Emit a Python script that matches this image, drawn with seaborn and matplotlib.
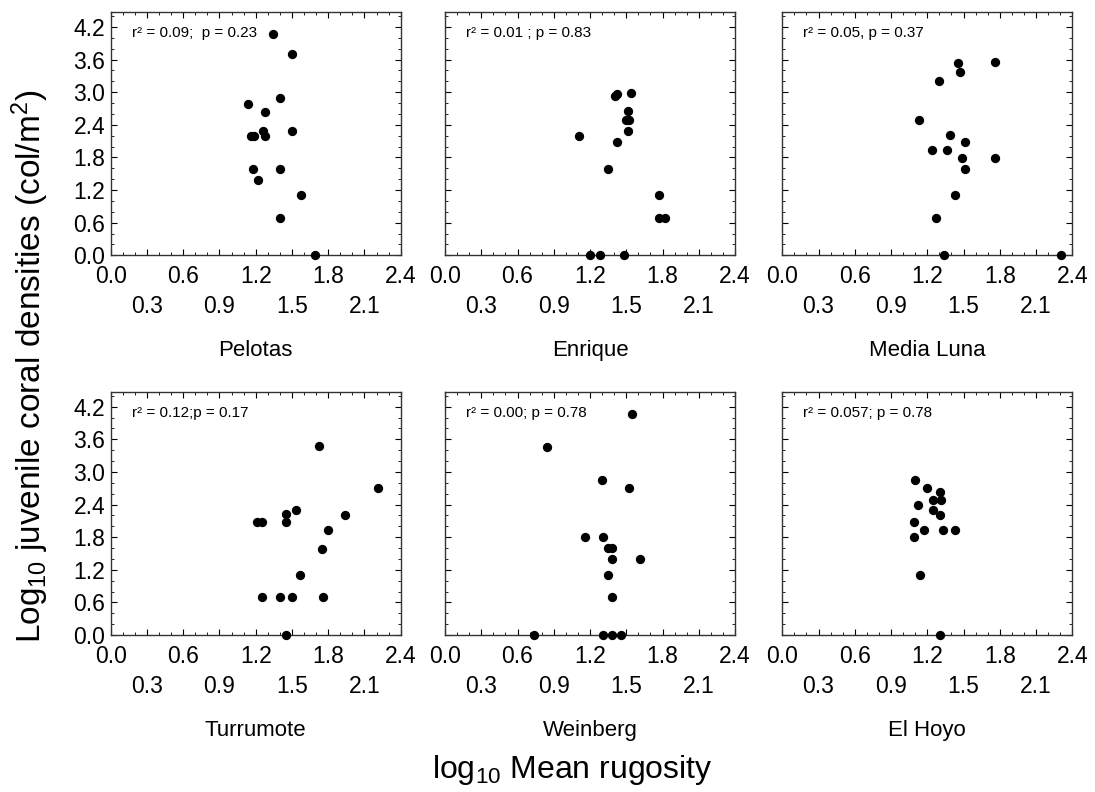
import numpy as np
import pandas as pd
import matplotlib
matplotlib.use("Agg")
import matplotlib.pyplot as plt
from matplotlib.ticker import MultipleLocator
import seaborn as sns

# ---------------- data ----------------
sites = ["Pelotas", "Enrique", "Media Luna", "Turrumote", "Weinberg", "El Hoyo"]

pelotas_x = [1.34, 1.50, 1.40, 1.14, 1.28, 1.26, 1.50, 1.16, 1.19, 1.28, 1.175, 1.40, 1.22, 1.575, 1.40, 1.69]
pelotas_y = [4.08, 3.70, 2.89, 2.78, 2.64, 2.29, 2.29, 2.20, 2.20, 2.20, 1.59, 1.59, 1.38, 1.11, 0.69, 0.0]

enrique_x = [1.11, 1.41, 1.42, 1.54, 1.515, 1.525, 1.50, 1.515, 1.42, 1.35, 1.77, 1.77, 1.82, 1.20, 1.28, 1.485]
enrique_y = [2.20, 2.93, 2.97, 2.98, 2.65, 2.49, 2.49, 2.29, 2.09, 1.59, 1.11, 0.69, 0.69, 0.0, 0.0, 0.0]

medialuna_x = [1.76, 1.45, 1.47, 1.30, 1.13, 1.39, 1.51, 1.24, 1.365, 1.49, 1.76, 1.51, 1.43, 1.27, 1.34, 2.31]
medialuna_y = [3.56, 3.53, 3.38, 3.21, 2.49, 2.21, 2.08, 1.93, 1.93, 1.79, 1.79, 1.59, 1.11, 0.69, 0.0, 0.0]

turrumote_x = [1.72, 2.215, 1.53, 1.45, 1.94, 1.21, 1.255, 1.45, 1.80, 1.745, 1.57, 1.255, 1.40, 1.50, 1.76, 1.45]
turrumote_y = [3.48, 2.70, 2.30, 2.22, 2.21, 2.08, 2.08, 2.08, 1.94, 1.59, 1.11, 0.70, 0.70, 0.70, 0.70, 0.0]

weinberg_x = [1.55, 0.84, 1.30, 1.52, 1.16, 1.31, 1.35, 1.38, 1.38, 1.61, 1.35, 1.38, 0.74, 1.31, 1.38, 1.455]
weinberg_y = [4.07, 3.46, 2.85, 2.70, 1.81, 1.81, 1.60, 1.60, 1.40, 1.40, 1.11, 0.70, 0.0, 0.0, 0.0, 0.0]

elhoyo_x = [1.10, 1.20, 1.305, 1.245, 1.31, 1.125, 1.245, 1.305, 1.09, 1.17, 1.33, 1.43, 1.09, 1.14, 1.305]
elhoyo_y = [2.85, 2.70, 2.63, 2.49, 2.49, 2.40, 2.30, 2.21, 2.08, 1.94, 1.94, 1.94, 1.81, 1.11, 0.0]

stats_text = ["r\u00b2 = 0.09;  p = 0.23", "r\u00b2 = 0.01 ; p = 0.83", "r\u00b2 = 0.05, p = 0.37",
              "r\u00b2 = 0.12;p = 0.17", "r\u00b2 = 0.00; p = 0.78", "r\u00b2 = 0.057; p = 0.78"]

xs = [pelotas_x, enrique_x, medialuna_x, turrumote_x, weinberg_x, elhoyo_x]
ys = [pelotas_y, enrique_y, medialuna_y, turrumote_y, weinberg_y, elhoyo_y]

x_major = [0.0, 0.3, 0.6, 0.9, 1.2, 1.5, 1.8, 2.1, 2.4]
x_labels = ["0.0", "\n0.3", "0.6", "\n0.9", "1.2", "\n1.5", "1.8", "\n2.1", "2.4"]
y_major = [0.0, 0.6, 1.2, 1.8, 2.4, 3.0, 3.6, 4.2]

# ---------------- style ----------------
sns.set_theme(style="ticks")
plt.rcParams["font.family"] = ["Liberation Sans", "DejaVu Sans"]
plt.rcParams["mathtext.fontset"] = "custom"
plt.rcParams["mathtext.rm"] = "Liberation Sans"
plt.rcParams["mathtext.it"] = "Liberation Sans:italic"
plt.rcParams["mathtext.default"] = "regular"
for key in ["text.color", "axes.labelcolor", "xtick.color", "ytick.color"]:
    plt.rcParams[key] = "black"

fig = plt.figure(figsize=(10.95, 7.92), dpi=100)

W, H = 1095.0, 792.0
col_left = [110.7, 445.0, 782.3]
col_w = 290.0
row_bottom = [255.3, 635.0]
row_h = 243.0

for i, site in enumerate(sites):
    r, c = divmod(i, 3)
    ax = fig.add_axes([col_left[c] / W, 1 - row_bottom[r] / H, col_w / W, row_h / H])
    df = pd.DataFrame({"x": xs[i], "y": ys[i]})
    sns.scatterplot(data=df, x="x", y="y", ax=ax, color="black", s=45,
                    linewidth=0, clip_on=False, zorder=3)
    ax.set_xlim(0, 2.4)
    ax.set_ylim(0, 4.47)
    ax.set_xticks(x_major)
    ax.set_xticklabels(x_labels)
    ax.xaxis.set_minor_locator(MultipleLocator(0.1))
    ax.set_yticks(y_major)
    ax.yaxis.set_minor_locator(MultipleLocator(0.2))
    ax.tick_params(which="both", direction="in", top=True, right=True, color="black")
    ax.tick_params(which="major", length=4.5, width=0.8, labelsize=16.5)
    ax.tick_params(axis="x", which="major", pad=7)
    ax.tick_params(axis="y", which="major", pad=4)
    ax.tick_params(which="minor", length=2.5, width=0.6)
    for lbl in ax.get_xticklabels():
        lbl.set_linespacing(1.38)
    if c != 0:
        ax.set_yticklabels([])
    for sp in ax.spines.values():
        sp.set_linewidth(1.0)
        sp.set_color("#333333")
    ax.set_ylabel("")
    ax.set_xlabel(site, fontsize=16, labelpad=16)
    ax.text(0.072, 0.915, stats_text[i], transform=ax.transAxes, fontsize=11,
            ha="left", va="center")

fig.text(0.028, 0.537, "Log$_{10}$ juvenile coral densities (col/m$^2$)",
         rotation=90, ha="center", va="center", fontsize=24)
fig.text(0.523, 0.028, "log$_{10}$ Mean rugosity", ha="center", va="center", fontsize=23)

fig.savefig("out.png", dpi=100)
